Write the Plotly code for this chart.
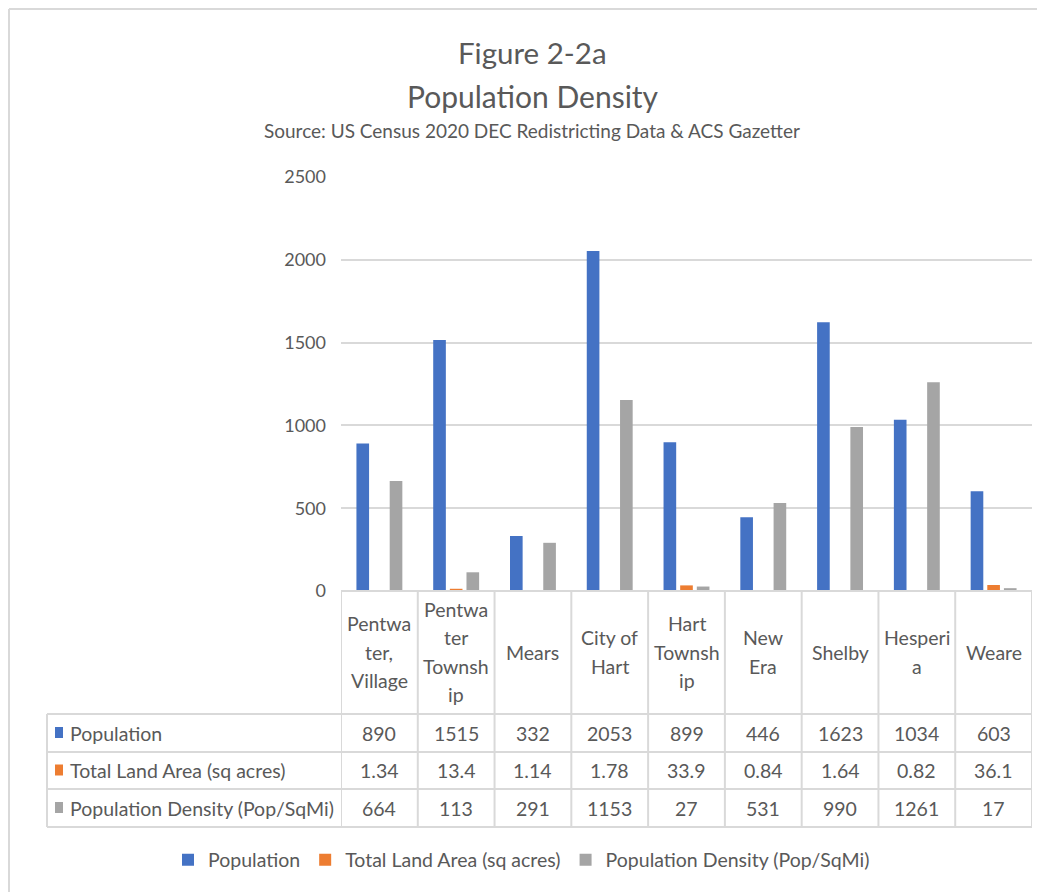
import plotly.graph_objects as go

categories = ["Pentwater, Village", "Pentwater Township", "Mears", "City of Hart",
              "Hart Township", "New Era", "Shelby", "Hesperia", "Weare"]
header_labels = ["Pentwa<br>ter,<br>Village", "Pentwa<br>ter<br>Townsh<br>ip", "Mears",
                 "City of<br>Hart", "Hart<br>Townsh<br>ip", "New<br>Era", "Shelby",
                 "Hesperi<br>a", "Weare"]
population = [890, 1515, 332, 2053, 899, 446, 1623, 1034, 603]
land_area = [1.34, 13.4, 1.14, 1.78, 33.9, 0.84, 1.64, 0.82, 36.1]
density = [664, 113, 291, 1153, 27, 531, 990, 1261, 17]
series_names = ["Population", "Total Land Area (sq acres)", "Population Density (Pop/SqMi)"]
colors = ["#4472C4", "#ED7D31", "#A5A5A5"]
y_ticks = [0, 500, 1000, 1500, 2000, 2500]

FONT = "Lato"
TXT = "#595959"
GRID = "#d9d9d9"

OFF = 8  # page body margin
W_FIG, H_FIG = 1045 - OFF, 892 - OFF
L, R, T, B = 341, 1032, 177, 591
PW, PH = R - L, B - T


def px(x):
    return (x - L) / PW


def py(y):
    return (B - y) / PH


xs = list(range(len(categories)))
fig = go.Figure()
for name, vals, col in zip(series_names, [population, land_area, density], colors):
    fig.add_trace(go.Bar(x=xs, y=vals, name=name, marker=dict(color=col, line=dict(width=0))))

shapes = []
annotations = []

# outer chart border (top and left visible)
shapes.append(dict(type="line", xref="paper", yref="paper", x0=px(9), x1=px(1045),
                   y0=py(9), y1=py(9), line=dict(color=GRID, width=2)))
shapes.append(dict(type="line", xref="paper", yref="paper", x0=px(9), x1=px(9),
                   y0=py(9), y1=py(892), line=dict(color=GRID, width=2)))

# data table grid
row_lines = [714, 752, 789, 827]
shapes.append(dict(type="line", xref="paper", yref="paper", x0=0, x1=1, y0=py(591), y1=py(591),
                   line=dict(color=GRID, width=2)))
for yl in row_lines:
    shapes.append(dict(type="line", xref="paper", yref="paper", x0=px(47), x1=1, y0=py(yl), y1=py(yl),
                       line=dict(color=GRID, width=2)))
shapes.append(dict(type="line", xref="paper", yref="paper", x0=px(47), x1=px(47),
                   y0=py(714), y1=py(827), line=dict(color=GRID, width=2)))
for i in range(len(categories) + 1):
    shapes.append(dict(type="line", xref="x", yref="paper", x0=i - 0.5, x1=i - 0.5,
                       y0=py(591), y1=py(827), line=dict(color=GRID, width=2)))

TF = 19.5
# header labels (wrapped category names)
line_h = 28.5
for i, lab in enumerate(header_labels):
    parts = lab.split("<br>")
    n = len(parts)
    for k, p in enumerate(parts):
        yc = 652 + (k - (n - 1) / 2) * line_h
        annotations.append(dict(x=i, y=py(yc), xref="x", yref="paper", text=p, showarrow=False,
                                xanchor="center", yanchor="middle",
                                font=dict(family=FONT, size=TF, color=TXT)))

# table rows
row_centers = [733, 770.5, 808]
for name, vals, col, yc in zip(series_names, [population, land_area, density], colors, row_centers):
    shapes.append(dict(type="rect", xref="paper", yref="paper", x0=px(55), x1=px(63),
                       y0=py(yc - 6), y1=py(yc + 5), fillcolor=col, line=dict(width=0)))
    annotations.append(dict(x=px(68), y=py(yc), xref="paper", yref="paper", text=name,
                            showarrow=False, xanchor="left", yanchor="middle",
                            font=dict(family=FONT, size=TF, color=TXT)))
    for i, v in enumerate(vals):
        annotations.append(dict(x=i, y=py(yc), xref="x", yref="paper", text=f"{v:g}",
                                showarrow=False, xanchor="center", yanchor="middle",
                                font=dict(family=FONT, size=TF, color=TXT)))

# titles
annotations.append(dict(x=px(532), y=py(52), xref="paper", yref="paper", text="Figure 2-2a",
                        showarrow=False, xanchor="center", yanchor="middle",
                        font=dict(family=FONT, size=29.5, color=TXT)))
annotations.append(dict(x=px(533), y=py(96), xref="paper", yref="paper", text="Population Density",
                        showarrow=False, xanchor="center", yanchor="middle",
                        font=dict(family=FONT, size=30, color=TXT)))
annotations.append(dict(x=px(532), y=py(131), xref="paper", yref="paper",
                        text="Source: US Census 2020 DEC Redistricting Data & ACS Gazetter",
                        showarrow=False, xanchor="center", yanchor="middle",
                        font=dict(family=FONT, size=19, color=TXT)))

fig.update_layout(
    width=W_FIG, height=H_FIG,
    margin=dict(l=L - OFF, r=1045 - R, t=T - OFF, b=892 - B, pad=0),
    paper_bgcolor="white", plot_bgcolor="white",
    barmode="group", bargap=0.35, bargroupgap=0.24,
    shapes=shapes, annotations=annotations,
    showlegend=True,
    legend=dict(orientation="h", x=px(168), xanchor="left", y=py(860), yanchor="middle",
                font=dict(family=FONT, size=19.5, color=TXT), itemwidth=30, traceorder="normal",
                borderwidth=0),
    font=dict(family=FONT, color=TXT),
)
fig.update_xaxes(range=[-0.5, len(categories) - 0.5], showticklabels=False, showgrid=False,
                 zeroline=False, showline=False, ticks="")
fig.update_yaxes(range=[0, 2500], tickvals=y_ticks, showgrid=True, gridcolor=GRID, gridwidth=1.5,
                 zeroline=False, showline=False, ticks="", ticklabelstandoff=14,
                 tickfont=dict(family=FONT, size=18, color=TXT))

fig.write_html("out.html")
